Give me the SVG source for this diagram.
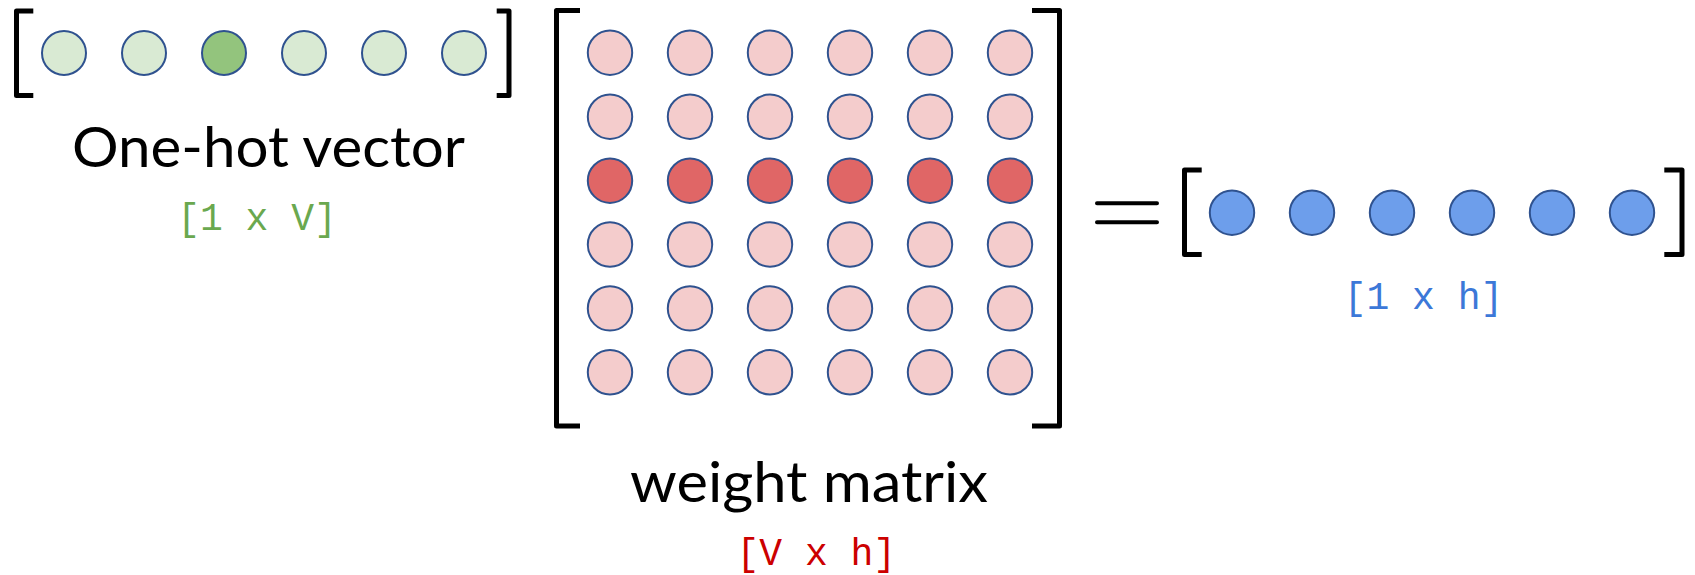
<svg xmlns="http://www.w3.org/2000/svg" width="1695" height="575" viewBox="0 0 1695 575">
<style>
.br{fill:none;stroke:#000;stroke-width:5;stroke-linejoin:round;stroke-linecap:butt}
.c{stroke:#2F528F;stroke-width:2}
.g{fill:#D9EAD3}.gd{fill:#93C47D}
.p{fill:#F4CCCC}.pd{fill:#E06666}
.b{fill:#6D9EEB}
.lbl{font-family:Lato,"Open Sans",sans-serif;font-size:56px;fill:#000}
.dim{font-family:"Liberation Mono","DejaVu Sans Mono",monospace;font-size:38px}
</style>
<rect width="1695" height="575" fill="#fff"/>
<g id="onehot">
<path class="br" d="M33.3,11 H16.5 V95.5 H33.3"/>
<path class="br" d="M496.7,11 H509 V95.5 H496.7"/>
<circle class="c g" cx="64" cy="53" r="22"/>
<circle class="c g" cx="144" cy="53" r="22"/>
<circle class="c gd" cx="224" cy="53" r="22"/>
<circle class="c g" cx="304" cy="53" r="22"/>
<circle class="c g" cx="384" cy="53" r="22"/>
<circle class="c g" cx="464" cy="53" r="22"/>
<text class="lbl" x="72" y="167" textLength="393" lengthAdjust="spacingAndGlyphs">One-hot vector</text>
<text class="dim" x="257" y="230" text-anchor="middle" fill="#6AA84F">[1 x V]</text>
</g>
<g id="matrix">
<path class="br" d="M580,10.5 H556.5 V426 H580"/>
<path class="br" d="M1032,10.5 H1059.5 V426 H1032"/>
<g class="c p">
<circle cx="610" cy="52.7" r="22.2"/><circle cx="690" cy="52.7" r="22.2"/><circle cx="770" cy="52.7" r="22.2"/><circle cx="850" cy="52.7" r="22.2"/><circle cx="930" cy="52.7" r="22.2"/><circle cx="1010" cy="52.7" r="22.2"/>
<circle cx="610" cy="116.7" r="22.2"/><circle cx="690" cy="116.7" r="22.2"/><circle cx="770" cy="116.7" r="22.2"/><circle cx="850" cy="116.7" r="22.2"/><circle cx="930" cy="116.7" r="22.2"/><circle cx="1010" cy="116.7" r="22.2"/>
</g>
<g class="c pd">
<circle cx="610" cy="180.7" r="22.2"/><circle cx="690" cy="180.7" r="22.2"/><circle cx="770" cy="180.7" r="22.2"/><circle cx="850" cy="180.7" r="22.2"/><circle cx="930" cy="180.7" r="22.2"/><circle cx="1010" cy="180.7" r="22.2"/>
</g>
<g class="c p">
<circle cx="610" cy="244.5" r="22.2"/><circle cx="690" cy="244.5" r="22.2"/><circle cx="770" cy="244.5" r="22.2"/><circle cx="850" cy="244.5" r="22.2"/><circle cx="930" cy="244.5" r="22.2"/><circle cx="1010" cy="244.5" r="22.2"/>
<circle cx="610" cy="308.4" r="22.2"/><circle cx="690" cy="308.4" r="22.2"/><circle cx="770" cy="308.4" r="22.2"/><circle cx="850" cy="308.4" r="22.2"/><circle cx="930" cy="308.4" r="22.2"/><circle cx="1010" cy="308.4" r="22.2"/>
<circle cx="610" cy="372.3" r="22.2"/><circle cx="690" cy="372.3" r="22.2"/><circle cx="770" cy="372.3" r="22.2"/><circle cx="850" cy="372.3" r="22.2"/><circle cx="930" cy="372.3" r="22.2"/><circle cx="1010" cy="372.3" r="22.2"/>
</g>
<text class="lbl" x="630" y="502" textLength="358" lengthAdjust="spacingAndGlyphs">weight matrix</text>
<text class="dim" x="816.3" y="565" text-anchor="middle" fill="#CC0000">[V x h]</text>
</g>
<g id="equals">
<path d="M1097,203.3 H1157 M1097,222.3 H1157" stroke="#000" stroke-width="4" stroke-linecap="round"/>
</g>
<g id="output">
<path class="br" d="M1201.7,170 H1184.5 V254.5 H1201.7"/>
<path class="br" d="M1664.3,170 H1682 V254.5 H1664.3"/>
<g class="c b">
<circle cx="1232" cy="212.7" r="22.2"/><circle cx="1312" cy="212.7" r="22.2"/><circle cx="1392" cy="212.7" r="22.2"/><circle cx="1472" cy="212.7" r="22.2"/><circle cx="1552" cy="212.7" r="22.2"/><circle cx="1632" cy="212.7" r="22.2"/>
</g>
<text class="dim" x="1423.5" y="309" text-anchor="middle" fill="#3C78D8">[1 x h]</text>
</g>
</svg>
